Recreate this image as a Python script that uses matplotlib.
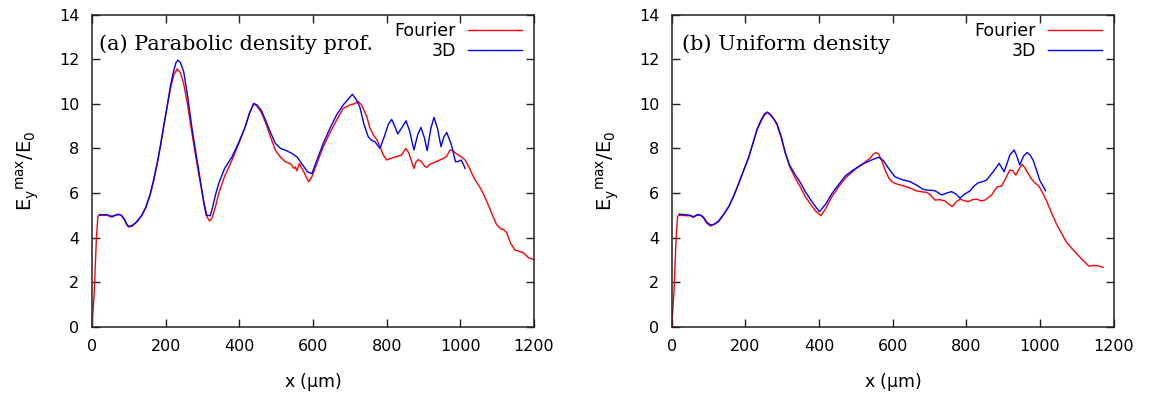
import matplotlib
matplotlib.use("Agg")
import matplotlib.pyplot as plt
import numpy as np

plt.rcParams['font.family'] = ['DejaVu Sans']
plt.rcParams['mathtext.default'] = 'regular'

# ---------------- data ----------------
# Panel (a) parabolic density profile
a_fourier_x = [0, 6, 12, 16, 20, 40, 54, 62, 72, 80, 88, 95, 100, 110, 122, 135, 145, 157, 167, 177,
               186, 195, 204, 213, 222, 231, 240, 249, 260, 271.5, 283, 294, 305, 313, 319, 325, 334, 344,
               360, 380, 398, 416, 428, 439, 448, 460, 471, 485, 498, 512, 525, 540, 548, 552, 556, 563,
               568, 575, 588, 592, 597, 610, 628, 646, 664, 682, 700, 712, 723, 732, 746, 755, 764, 773,
               782, 791, 800, 810, 827, 840, 852, 860, 866, 874, 880, 886, 895, 903, 909, 918, 928, 940,
               954, 963, 972, 980, 990, 1000, 1013, 1025, 1040, 1050, 1062, 1075, 1085, 1098, 1108, 1118,
               1126, 1135, 1148, 1160, 1171, 1185, 1198]
a_fourier_y = [0, 1.5, 4.0, 4.95, 5.0, 5.0, 4.92, 4.98, 5.03, 4.98, 4.8, 4.55, 4.47, 4.52, 4.7, 4.98, 5.3,
               5.85, 6.5, 7.3, 8.1, 9.0, 9.85, 10.7, 11.3, 11.57, 11.4, 10.9, 9.9, 8.67, 7.5, 6.45, 5.5,
               4.9, 4.75, 4.85, 5.3, 5.98, 6.75, 7.47, 8.2, 8.97, 9.6, 10.0, 9.9, 9.6, 9.17, 8.5, 7.92,
               7.6, 7.4, 7.3, 7.1, 7.17, 7.0, 7.32, 7.15, 6.95, 6.5, 6.6, 6.73, 7.3, 8.08, 8.7, 9.27, 9.8,
               9.95, 10.0, 10.1, 9.95, 9.42, 8.9, 8.6, 8.4, 8.08, 7.7, 7.48, 7.55, 7.63, 7.7, 8.0, 7.8,
               7.5, 7.1, 7.4, 7.5, 7.4, 7.2, 7.15, 7.3, 7.36, 7.45, 7.55, 7.65, 7.93, 7.9, 7.75, 7.65,
               7.48, 7.1, 6.58, 6.35, 5.98, 5.5, 5.09, 4.6, 4.41, 4.35, 4.22, 3.8, 3.44, 3.38, 3.32, 3.1,
               3.02]
a_3d_x = [20, 40, 54, 62, 72, 80, 88, 95, 100, 110, 122, 135, 145, 157, 167, 177, 186, 195, 204, 213,
          222, 228, 233.5, 240, 249, 260, 271.5, 283, 294, 303, 310, 321, 328, 335, 344, 360, 380, 398,
          416, 428, 439, 448, 460, 471, 485, 498, 512, 525, 540, 556.6, 570, 585, 597, 610, 628, 646,
          664, 682, 695, 707, 717, 727, 738, 750, 760, 768, 775, 782, 795, 805, 813.6, 822, 830, 842,
          852.5, 862, 874, 884, 893, 902, 910, 920, 928.5, 938, 947.5, 955, 963, 975, 987, 995, 1002,
          1008, 1013]
a_3d_y = [5.03, 5.03, 4.95, 5.0, 5.05, 5.0, 4.82, 4.58, 4.5, 4.55, 4.72, 5.0, 5.32, 5.9, 6.58, 7.35,
          8.15, 9.05, 9.9, 10.8, 11.5, 11.85, 11.96, 11.85, 11.44, 10.3, 8.9, 7.7, 6.58, 5.6, 5.0, 4.98,
          5.4, 5.9, 6.43, 7.1, 7.62, 8.25, 8.97, 9.6, 10.02, 9.95, 9.7, 9.27, 8.7, 8.22, 8.0, 7.92, 7.8,
          7.62, 7.3, 6.95, 6.87, 7.45, 8.23, 8.9, 9.5, 9.95, 10.2, 10.43, 10.2, 9.87, 9.1, 8.52, 8.35,
          8.3, 8.15, 8.0, 8.6, 9.1, 9.3, 9.0, 8.65, 8.95, 9.24, 8.8, 7.93, 8.6, 8.94, 8.5, 7.9, 8.9,
          9.39, 8.9, 8.08, 8.5, 8.72, 8.2, 7.4, 7.42, 7.48, 7.3, 7.1]

# Panel (b) uniform density
b_fourier_x = [0, 6, 12, 16, 20, 40, 50, 59, 66, 73, 80, 87, 95, 105, 115, 127, 140, 155, 168, 182, 195,
               209, 220, 231.5, 242, 252, 261, 270, 278, 286, 297, 308.5, 320, 335.5, 350, 362.6, 375,
               390, 405, 418, 435, 452, 471, 490, 507, 522, 538, 548, 554, 562, 570, 580, 590, 598, 606,
               622, 638, 650, 665, 680, 692, 703, 715, 728, 742, 752, 762, 772, 783, 795, 805, 817, 828,
               840, 850.5, 860, 868.6, 876, 884, 895.5, 905, 918, 926, 934, 944, 952, 960, 967.5, 976,
               985.5, 997, 1007, 1017, 1030, 1044, 1058, 1071, 1087, 1102.7, 1118, 1132.6, 1148, 1160,
               1171]
b_fourier_y = [0, 1.5, 4.0, 4.95, 5.0, 4.98, 4.98, 4.9, 4.98, 5.01, 4.98, 4.86, 4.65, 4.52, 4.58, 4.71,
               5.0, 5.38, 5.85, 6.43, 7.0, 7.6, 8.2, 8.82, 9.2, 9.5, 9.62, 9.5, 9.3, 9.05, 8.5, 7.78, 7.2,
               6.66, 6.25, 5.84, 5.55, 5.2, 4.98, 5.3, 5.84, 6.25, 6.66, 6.95, 7.18, 7.35, 7.55, 7.75,
               7.81, 7.75, 7.45, 7.0, 6.65, 6.51, 6.43, 6.35, 6.28, 6.2, 6.09, 6.05, 6.03, 5.9, 5.68, 5.7,
               5.64, 5.5, 5.39, 5.6, 5.72, 5.65, 5.61, 5.7, 5.72, 5.65, 5.68, 5.8, 5.91, 6.1, 6.28, 6.31,
               6.6, 7.03, 7.0, 6.8, 7.1, 7.28, 7.1, 6.88, 6.65, 6.46, 6.31, 6.0, 5.68, 5.15, 4.63, 4.2,
               3.81, 3.5, 3.22, 2.95, 2.72, 2.75, 2.72, 2.66]
b_3d_x = [20, 40, 50, 59, 66, 73, 80, 87, 95, 105, 115, 127, 140, 155, 168, 182, 195, 209, 220, 231.5,
          242, 252, 259, 268, 278, 286, 297, 308.5, 320, 335.5, 350, 362.6, 375, 390, 401, 418, 435, 452,
          471, 490, 507, 525, 545, 562, 575, 592, 606, 625, 647, 665, 683, 700, 715, 733, 747, 760, 772,
          783, 795, 809.5, 820, 832, 843, 854.5, 863, 872.6, 889, 902.5, 910, 918, 929.5, 937, 945, 955,
          965, 973, 981, 990, 999, 1015]
b_3d_y = [5.05, 5.02, 5.0, 4.93, 5.0, 5.03, 5.0, 4.9, 4.7, 4.56, 4.6, 4.74, 5.02, 5.4, 5.85, 6.43, 7.0,
          7.6, 8.2, 8.85, 9.25, 9.55, 9.63, 9.5, 9.3, 9.1, 8.55, 7.8, 7.25, 6.81, 6.45, 6.06, 5.75, 5.4,
          5.16, 5.5, 5.98, 6.35, 6.76, 7.0, 7.18, 7.35, 7.5, 7.6, 7.45, 7.03, 6.73, 6.6, 6.51, 6.35,
          6.16, 6.12, 6.1, 5.91, 6.0, 6.06, 5.95, 5.76, 5.95, 6.09, 6.3, 6.46, 6.5, 6.58, 6.75, 6.95,
          7.33, 6.95, 7.3, 7.7, 7.93, 7.65, 7.25, 7.65, 7.82, 7.7, 7.48, 7.05, 6.58, 6.1]

titles = ["(a) Parabolic density prof.", "(b) Uniform density"]
series_labels = ["Fourier", "3D"]
x_ticks = [0, 200, 400, 600, 800, 1000, 1200]
y_ticks = [0, 2, 4, 6, 8, 10, 12, 14]

# ---------------- figure ----------------
W, H = 1151, 395
fig = plt.figure(figsize=(W / 100, H / 100), dpi=100)
ax_w, ax_h = 442 / W, 312 / H
bottom = (H - 326.7) / H
axes = [fig.add_axes([92 / W, bottom, ax_w, ax_h]),
        fig.add_axes([671.7 / W, bottom, ax_w, ax_h])]

panels = [(a_fourier_x, a_fourier_y, a_3d_x, a_3d_y),
          (b_fourier_x, b_fourier_y, b_3d_x, b_3d_y)]
title_x = [0.016, 0.023]

for ax, (fx, fy, dx, dy), title, tx in zip(axes, panels, titles, title_x):
    ax.plot(fx, fy, color='#ff0000', lw=1.0, label=series_labels[0])
    ax.plot(dx, dy, color='#0000ff', lw=1.0, label=series_labels[1])
    ax.set_xlim(0, 1200)
    ax.set_ylim(0, 14)
    ax.set_xticks(x_ticks)
    ax.set_yticks(y_ticks)
    ax.tick_params(direction='in', top=True, right=True, length=6, width=1,
                   labelsize=11.5, colors='#222222', labelcolor='black')
    ax.tick_params(axis='x', pad=9)
    ax.tick_params(axis='y', pad=9)
    for s in ax.spines.values():
        s.set_linewidth(1.1)
        s.set_color('#222222')
    ax.set_xlabel(r'x ($\mu$m)', fontsize=12.5, labelpad=12)
    ax.set_ylabel(r'$E_y{}^{max}/E_0$', fontsize=14, labelpad=13)
    ax.text(tx, 0.905, title, transform=ax.transAxes, fontsize=15,
            family=['DejaVu Serif'], va='center', ha='left')
    ax.legend(loc='upper right', bbox_to_anchor=(0.973, 0.975), frameon=False,
              markerfirst=False, fontsize=12.5, handlelength=3.1, handletextpad=0.7,
              borderpad=0, borderaxespad=0, labelspacing=0.1)

fig.savefig("out.png", dpi=100)
